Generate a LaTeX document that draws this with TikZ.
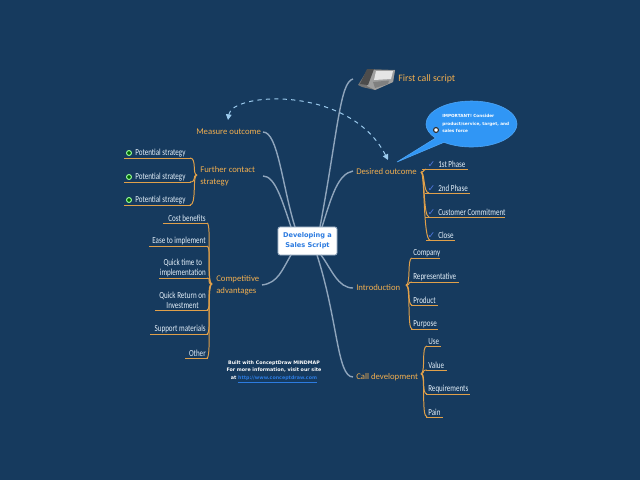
\documentclass[tikz,border=0pt]{standalone}
\usepackage{fontspec}
\setmainfont{Carlito}
\newfontfamily\rootfont{DejaVu Sans}
\newfontfamily\leaffont[FakeStretch=0.76]{Carlito}
\usetikzlibrary{shapes.callouts,arrows.meta}
\definecolor{mapbg}{HTML}{163A5E}
\definecolor{limb}{HTML}{8FA5BC}
\definecolor{twig}{HTML}{E0A04A}
\definecolor{mainlabel}{HTML}{F0AE50}
\definecolor{leaflabel}{HTML}{E4F0FA}
\definecolor{bubble}{HTML}{3096F5}
\definecolor{dashlink}{HTML}{9CCBEE}
\definecolor{tickblue}{HTML}{5078E0}
\definecolor{linkblue}{HTML}{2C7BE0}
\tikzset{
	limbline/.style={limb,line width=1pt},
	twigline/.style={twig,line width=0.7pt},
	mainnode/.style={text=mainlabel,font=\fontsize{6.2}{8.5}\selectfont,inner sep=0pt,align=left},
	leafnode/.style={text=leaflabel,font=\leaffont\fontsize{6.6}{7}\selectfont,inner sep=0pt,align=center}
}
\begin{document}
\begin{tikzpicture}[x=0.025cm,y=-0.025cm]
	\fill[mapbg] (0,0) rectangle (640,480);
	\useasboundingbox (0,0) rectangle (640,480);
	% centre
	\node[draw=limb,fill=white,rounded corners=1.5pt,line width=0.6pt,minimum width=1.475cm,minimum height=0.7cm,inner sep=0pt,
		align=center,text=linkblue,font=\rootfont\bfseries\fontsize{4.7}{7.2}\selectfont] (script) at (307.5,241) {Developing a\\Sales Script};
	% main branches
	\node[mainnode,anchor=west,font=\fontsize{7}{8.5}\selectfont] (call) at (398,79) {First call script};
	\node[mainnode,anchor=west] (desired) at (356,171.5) {Desired outcome};
	\node[mainnode,anchor=west] (intro) at (356,288) {Introduction};
	\node[mainnode,anchor=west] (develop) at (356,377) {Call development};
	\node[mainnode,anchor=west] (measure) at (196,132) {Measure outcome};
	\node[mainnode,anchor=west] (further) at (200,176) {Further contact\\strategy};
	\node[mainnode,anchor=west] (compet) at (216,285) {Competitive\\advantages};
	% free ends of the limbs
	\coordinate (phonein) at (353,79);
	\coordinate (desiredin) at (353,171);
	\coordinate (introin) at (353,288);
	\coordinate (developin) at (353,377);
	\coordinate (measurein) at (263,132);
	\coordinate (furtherin) at (263,176);
	\coordinate (competin) at (262,285);
	\draw[limbline] (phonein) .. controls (340,82) and (338,130) .. (320,227);
	\draw[limbline] (desiredin) .. controls (338,174) and (332,195) .. (322,227);
	\draw[limbline] (introin) .. controls (338,288) and (332,270) .. (321,255);
	\draw[limbline] (developin) .. controls (337,377) and (338,320) .. (317,255);
	\draw[limbline] (measurein) .. controls (278,132) and (282,185) .. (295,227);
	\draw[limbline] (furtherin) .. controls (275,176) and (282,200) .. (291,227);
	\draw[limbline] (competin) .. controls (278,283) and (282,270) .. (291,255);
	% phone
	\fill[black!55] (358,85) -- (368,69) -- (395,70) -- (393,82) -- (375,90) -- (362,87) -- cycle;
	\fill[gray!75] (370,70) -- (395,70) -- (393,82) -- (375,90) -- (367,86) -- cycle;
	\fill[black!70] (360,84) -- (367,69) -- (374,69) -- (368,85) -- cycle;
	\fill[gray!20] (376,71) -- (393,71) -- (391,79) -- (374,80) -- cycle;
	\fill[black!50] (373,82) -- (389,80.5) -- (388,84) -- (375,88) -- cycle;
	% callout
	\node[ellipse callout,fill=bubble,draw=bubble!85!white,line width=0.4pt,minimum width=2.275cm,minimum height=1.15cm,
		inner sep=0pt,callout absolute pointer={(397,162)}] (note) at (471.5,124) {};
	\node[anchor=west,inner sep=0pt,text=white,align=left,font=\rootfont\bfseries\fontsize{3}{5.5}\selectfont] (notetext) at (442,123.5)
		{IMPORTANT! Consider\\product/service, target, and\\sales force};
	\node[circle,fill=white,draw=black!80,line width=0.8pt,inner sep=0pt,minimum size=3.5pt] (notemark) at (436,130) {};
	% link
	\coordinate (linka) at (228,120);
	\coordinate (linkb) at (388,160);
	\draw[dashlink,line width=0.7pt,dash pattern=on 3pt off 3pt,{Triangle[width=4pt,length=4pt]}-{Triangle[width=4pt,length=4pt]}]
		(linka) .. controls (232,92) and (350,85) .. (linkb);
	% desired outcome
	\coordinate (desiredout) at (421,172);
	\foreach \nm/\xa/\xb/\yy/\lab in {phasea/422/468/169/1st Phase,phaseb/425/470/193/2nd Phase,phasec/425/505/217/Customer Commitment,phased/426/455/240/Close}{
		\node[leafnode,anchor=south west] (\nm) at (438,\yy-1) {\lab};
		\node[text=tickblue,font=\rootfont\fontsize{6.5}{7}\selectfont,inner sep=0pt] (\nm tick) at (431.5,\yy-4) {\char"2713};
		\draw[twigline] (\xa,\yy) -- (\xb,\yy);
		\draw[twigline] (desiredout) .. controls (425,172) and (423,\yy) .. (\xa+4,\yy);
	}
	% introduction
	\coordinate (introout) at (406,285);
	\foreach \nm/\xb/\yy/\lab in {company/440/258/Company,agent/459/282/Representative,product/438/305/Product,purpose/438/329/Purpose}{
		\node[leafnode,anchor=south west] (\nm) at (413,\yy-1) {\lab};
		\draw[twigline] (411,\yy) -- (\xb,\yy);
		\draw[twigline] (introout) .. controls (411,285) and (407,\yy) .. (412,\yy);
	}
	% call development
	\coordinate (developout) at (421,374);
	\foreach \nm/\xb/\yy/\lab in {use/441/346/Use,value/447/370/Value,needs/470/394/Requirements,pain/443/417/Pain}{
		\node[leafnode,anchor=south west] (\nm) at (428,\yy-1) {\lab};
		\draw[twigline] (426,\yy) -- (\xb,\yy);
		\draw[twigline] (developout) .. controls (426,372) and (421,\yy) .. (427,\yy);
	}
	% further contact strategy
	\coordinate (furtherout) at (197,175);
	\foreach \nm/\yy in {stratega/158,strategb/182,strategc/205}{
		\node[leafnode,anchor=south west] (\nm) at (135,\yy-1) {Potential strategy};
		\node[circle,fill=black!60!green,draw=green!40!white,line width=0.7pt,inner sep=0pt,minimum size=3.5pt] (\nm dot) at (129,\yy-5) {};
		\draw[twigline] (124,\yy) -- (191,\yy);
		\draw[twigline] (furtherout) .. controls (192,175) and (197,\yy) .. (190,\yy);
	}
	% competitive advantages
	\coordinate (competout) at (212,284);
	\foreach \nm/\xa/\yy/\lab in {benefit/163/223/Cost benefits,ease/149/246/Ease to implement,quicktime/159/278/{Quick time to\\implementation},quickret/155/310/{Quick Return on\\Investment},support/150/334/Support materials,other/185/358/Other}{
		\node[leafnode,anchor=south east] (\nm) at (206,\yy-1) {\lab};
		\draw[twigline] (\xa,\yy) -- (208,\yy);
		\draw[twigline] (competout) .. controls (206,284) and (212,\yy) .. (207,\yy);
	}
	% footer
	\node[text=white,align=center,inner sep=0pt,font=\rootfont\bfseries\fontsize{3.4}{5.6}\selectfont] (built) at (274,372)
		{Built with ConceptDraw MINDMAP\\For more information, visit our site\\at \textcolor{linkblue}{\underline{http://www.conceptdraw.com}}};
\end{tikzpicture}
\end{document}
